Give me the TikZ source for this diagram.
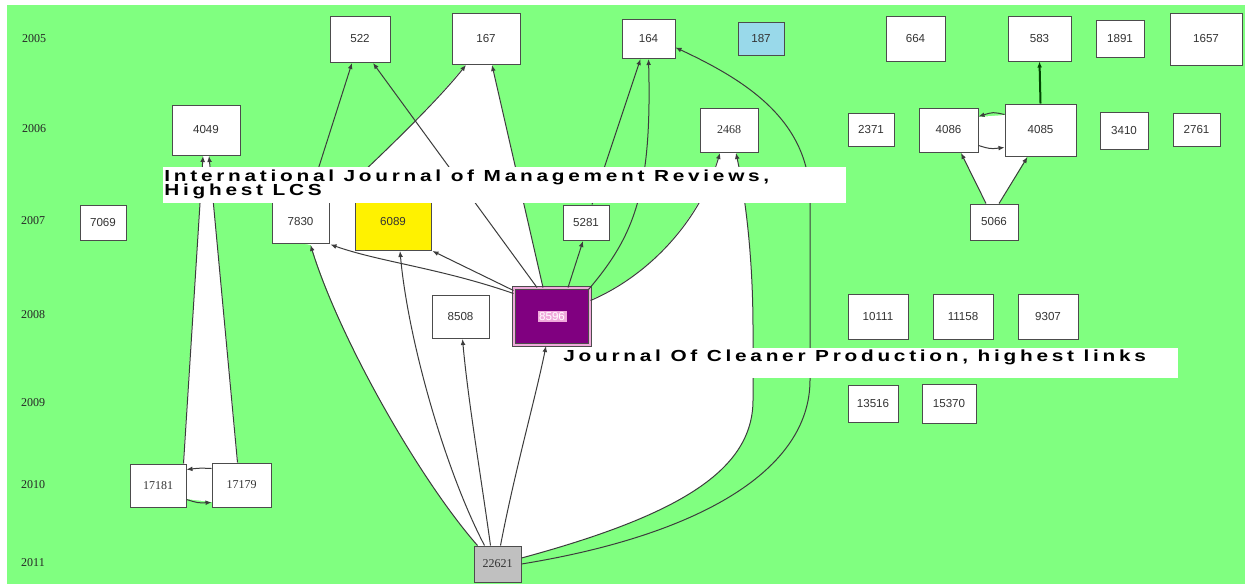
\documentclass[tikz,border=0pt]{standalone}
\usepackage{fontspec}
\usepackage{graphicx}
\setmainfont{Liberation Serif}
\newfontfamily\boxfont{Liberation Sans}
\newfontfamily\serfont{Liberation Serif}
\newfontfamily\lblfont[LetterSpace=18]{Liberation Sans}
\usetikzlibrary{calc,arrows.meta,shadows}
\definecolor{bg}{RGB}{128,255,128}
\definecolor{edgec}{RGB}{60,60,60}
\definecolor{ylw}{RGB}{255,242,0}
\definecolor{lblue}{RGB}{153,217,234}
\definecolor{purp}{RGB}{128,0,128}
\definecolor{pinkb}{RGB}{240,170,220}
\definecolor{greyb}{RGB}{192,192,192}
\begin{document}
\begin{tikzpicture}[x=0.5pt,y=-0.5pt,
  box/.style={draw=black!70, fill=white, line width=0.5pt, inner sep=0pt,
    font=\boxfont\fontsize{5.8}{7}\selectfont, text=black!80,
    drop shadow={shadow xshift=0.7pt, shadow yshift=-0.7pt, fill=black!60, opacity=0.8}},
  sbox/.style={box, font=\serfont\fontsize{6}{7}\selectfont},
  sz/.style n args={2}{minimum width=#1*0.5pt, minimum height=#2*0.5pt},
  edge/.style={draw=edgec, line width=0.5pt, -{Latex[length=3pt,width=2.4pt]}},
  yr/.style={font=\serfont\fontsize{6}{7}\selectfont, text=black!85, inner sep=0pt},
  lbl/.style={font=\lblfont\bfseries\fontsize{8}{9}\selectfont, inner sep=0pt, anchor=base west}
]
\useasboundingbox (0,0) rectangle (1245,584);
\fill[bg] (7,5) rectangle (1245,584);

% white areas
\fill[white] (183,464) -- (203,155) -- (209,155) -- (238,463) -- (212,469) -- (212,502) -- (186,499) -- (186,470) -- cycle;
\fill[white] (986,204) -- (961,152) -- (978,152) -- (978,117) -- (1005,115) -- (1005,156) -- (1027,156) -- (999,204) -- cycle;
\fill[white] (478,546) .. controls (420,480) and (340,340) .. (311,245) -- (300,243) -- (300,200) -- (333,200)
  .. controls (355,180) and (430,110) .. (466,64) -- (492,64) -- (543,288) -- (590,300)
  .. controls (650,275) and (700,220) .. (720,152) -- (736,152)
  .. controls (746,200) and (753,260) .. (753,330) -- (753,400)
  .. controls (753,470) and (680,515) .. (521,558) -- (497,560) -- cycle;

% years
\node[yr] (y2005) at (34,39) {2005};
\node[yr] (y2006) at (34,129) {2006};
\node[yr] (y2007) at (33,221) {2007};
\node[yr] (y2008) at (33,315) {2008};
\node[yr] (y2009) at (33,403) {2009};
\node[yr] (y2010) at (33,485) {2010};
\node[yr] (y2011) at (33,563) {2011};

% nodes
\node[box,sz={60}{46}] (n522) at (360,39) {522};
\node[box,sz={68}{51}] (n167) at (486,38.5) {167};
\node[box,sz={53}{39}] (n164) at (648.5,38.5) {164};
\node[box,sz={46}{33},fill=lblue] (n187) at (761,38.5) {187};
\node[box,sz={59}{45}] (n664) at (915.5,38.5) {664};
\node[box,sz={63}{45}] (n583) at (1039.5,38.5) {583};
\node[box,sz={48}{37}] (n1891) at (1120,38.5) {1891};
\node[box,sz={72}{52}] (n1657) at (1206,39) {1657};
\node[box,sz={68}{50}] (n4049) at (206,130) {4049};
\node[sbox,sz={58}{44}] (n2468) at (729,130) {2468};
\node[box,sz={46}{33}] (n2371) at (871,129.5) {2371};
\node[box,sz={59}{44}] (n4086) at (948.5,130) {4086};
\node[box,sz={71}{52}] (n4085) at (1040.5,130) {4085};
\node[box,sz={48}{37}] (n3410) at (1124,130.5) {3410};
\node[box,sz={47}{33}] (n2761) at (1196.5,129.5) {2761};
\node[box,sz={46}{35}] (n7069) at (103,222.5) {7069};
\node[box,sz={57}{43}] (n7830) at (300.5,221.5) {7830};
\node[box,sz={76}{56},fill=ylw] (n6089) at (393,222) {6089};
\node[box,sz={46}{35}] (n5281) at (586,222.5) {5281};
\node[box,sz={48}{36}] (n5066) at (994,222) {5066};
\node[box,sz={57}{43}] (n8508) at (460.5,316.5) {8508};
\node[box,sz={76}{57},fill=purp,double=pinkb,double distance=1.2pt] (n8596) at (552,316.5)
  {\setlength{\fboxsep}{0.8pt}\colorbox{pinkb}{\textcolor{white}{8596}}};
\node[box,sz={60}{45}] (n10111) at (878,316.5) {10111};
\node[box,sz={60}{45}] (n11158) at (963,316.5) {11158};
\node[box,sz={60}{45}] (n9307) at (1048,316.5) {9307};
\node[box,sz={50}{37}] (n13516) at (873,403.5) {13516};
\node[box,sz={54}{39}] (n15370) at (949,403.5) {15370};
\node[sbox,sz={56}{43}] (n17181) at (158,485.5) {17181};
\node[sbox,sz={59}{44}] (n17179) at (241.5,485) {17179};
\node[sbox,sz={47}{36},fill=greyb] (n22621) at (497.5,564) {22621};

% edges
\draw[edge] ($(n22621.north west)+(4,0)$) .. controls (420,480) and (340,340) .. ($(n7830.south)+(10,1.5)$);
\draw[edge] ($(n22621.north)+(-13,0)$) .. controls (445,470) and (408,340) .. ($(n6089.south)+(7,0.5)$);
\draw[edge] ($(n22621.north)+(-7,0)$) .. controls (480,470) and (468,400) .. ($(n8508.south)+(2,0.5)$);
\draw[edge] ($(n22621.north)+(3,0)$) .. controls (515,470) and (535,400) .. ($(n8596.south)+(-6,0.5)$);
\draw[edge] ($(n22621.east)+(0,-6)$) .. controls (680,515) and (753,470) .. (753,400) -- (753,330)
  .. controls (753,260) and (746,200) .. ($(n2468.south)+(7,0.5)$);
\draw[edge] (n22621.east) .. controls (700,535) and (810,470) .. (810,380) -- (810,200)
  .. controls (810,120) and (745,80) .. ($(n164.east)+(0,9)$);
\draw[edge] ($(n8596.east)+(0,-16)$) .. controls (650,275) and (700,220) .. ($(n2468.south)+(-9,0.5)$);
\draw[edge] ($(n8596.north east)+(-2,2)$) .. controls (635,235) and (652,190) .. ($(n164.south)+(0,0.5)$);
\draw[edge] ($(n5281.north)+(6,0)$) -- ($(n164.south)+(-8,0.5)$);
\draw[edge] ($(n8596.north)+(16,0)$) -- ($(n5281.south)+(-3,0.5)$);
\draw[edge] ($(n8596.north)+(-9,0)$) -- ($(n167.south)+(6,0.5)$);
\draw[edge] ($(n8596.north)+(-15,0)$) -- ($(n522.south)+(13,0.5)$);
\draw[edge] ($(n8596.north west)+(0,3)$) -- ($(n6089.south east)+(1,0.5)$);
\draw[edge] ($(n8596.north west)+(0,6)$) .. controls (440,268) and (380,262) .. ($(n7830.south east)+(1,1)$);
\draw[edge] ($(n7830.north)+(8,0)$) -- ($(n522.south)+(-8,0.5)$);
\draw[edge] ($(n7830.north east)+(4,0)$) .. controls (355,180) and (430,110) .. ($(n167.south)+(-20,0.5)$);
\draw[edge] ($(n17181.north east)+(-3,0)$) -- ($(n4049.south)+(-3,0.5)$);
\draw[edge] ($(n17179.north west)+(26,0)$) -- ($(n4049.south)+(3,0.5)$);
\draw[edge] ($(n17179.north west)+(0,6)$) .. controls (200,468) .. ($(n17181.north east)+(0,6)$);
\draw[edge] ($(n17181.south east)+(0,-8)$) .. controls (198,503) .. ($(n17179.south west)+(0,-5)$);
\draw[edge] ($(n5066.north)+(-8,0)$) -- ($(n4086.south)+(12.5,0.5)$);
\draw[edge] ($(n5066.north)+(5,0)$) -- ($(n4085.south)+(-13,0.5)$);
\draw[edge] ($(n4085.north west)+(0,11)$) .. controls (993,112) .. ($(n4086.north east)+(0,9)$);
\draw[edge] ($(n4086.south east)+(0,-7)$) .. controls (990,149) .. ($(n4085.south west)+(0,-9)$);
\draw[edge, draw=black!55!green!60!black, line width=1pt] (n4085.north) -- (n583.south);

% labels
\fill[white] (163,167) rectangle (846,203);
\fill[white] (562,348) rectangle (1178,378);
\node[lbl] (lab1a) at (164,181.5) {\scalebox{1.3}[1]{International Journal of Management Reviews,}};
\node[lbl] (lab1b) at (164,195.5) {\scalebox{1.3}[1]{Highest LCS}};
\node[lbl] (lab2) at (563,361) {\scalebox{1.3}[1]{Journal Of Cleaner Production, highest links}};
\end{tikzpicture}
\end{document}
